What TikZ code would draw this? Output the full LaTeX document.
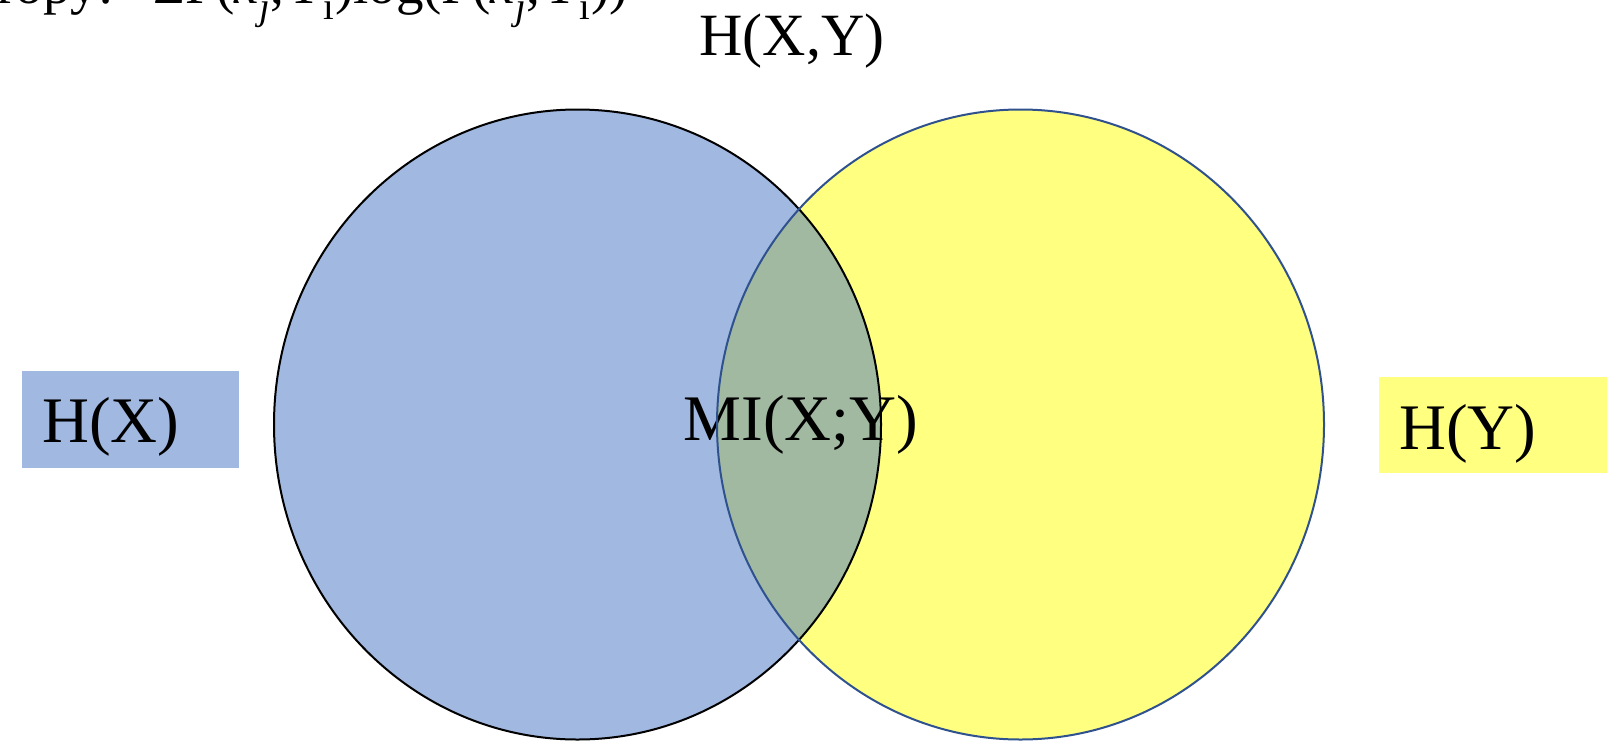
\documentclass[tikz,border=0pt]{standalone}
\usepackage{fontspec}
\setmainfont{Liberation Serif}
\usetikzlibrary{positioning}
\definecolor{hxblue}{RGB}{161,184,225}
\definecolor{hyyellow}{RGB}{255,255,128}
\definecolor{migreen}{RGB}{161,185,161}
\definecolor{hyedge}{RGB}{47,82,143}
\tikzset{
	setedge/.style={line width=2pt},
	setshape/.style={x radius=303.5,y radius=315},
	labelbox/.style={inner sep=0pt,minimum width=217pt,minimum height=97pt},
	biglabel/.style={font=\fontsize{65}{78}\selectfont,inner sep=0pt,anchor=base west}
}

\begin{document}
\begin{tikzpicture}[x=1pt,y=-1pt]
	\useasboundingbox (0,0) rectangle (1614,750);
	\clip (0,0) rectangle (1614,750);
	
	% Formula (cut off at the top)
	\node[font=\fontsize{55}{66}\selectfont,inner sep=0pt,anchor=base east] (formula) at (628,3)
	{Entropy:\,−ΣP(\textit{x}\textsubscript{\textit{j}},Y\textsubscript{i})log(P(\textit{x}\textsubscript{\textit{j}},Y\textsubscript{i}))};
	
	% Sets
	\coordinate (cX) at (577.5,424.5);
	\coordinate (cY) at (1020.5,424.5);
	\fill[hxblue] (cX) ellipse [setshape];
	\fill[hyyellow] (cY) ellipse [setshape];
	\begin{scope}
		\clip (cX) ellipse [setshape];
		\fill[migreen] (cY) ellipse [setshape];
	\end{scope}
	
	% Mutual information
	\node[biglabel,anchor=base] (MI) at (801,440) {MI(X;Y)};
	
	\draw[setedge] (cX) ellipse [setshape];
	\draw[setedge,hyedge] (cY) ellipse [setshape];
	
	% Side labels
	\node[labelbox,fill=hxblue] (HXbox) at (130.5,419.5) {};
	\node[biglabel] (HX) at (42,442) {H(X)};
	\node[labelbox,fill=hyyellow,minimum width=228pt,minimum height=96pt] (HYbox) at (1493,425) {};
	\node[biglabel] (HY) at (1399,449) {H(Y)};
	
	% Joint entropy
	\node[font=\fontsize{60}{72}\selectfont,inner sep=0pt,anchor=base] (HXY) at (792,55) {H(X,Y)};
	
\end{tikzpicture}
\end{document}
